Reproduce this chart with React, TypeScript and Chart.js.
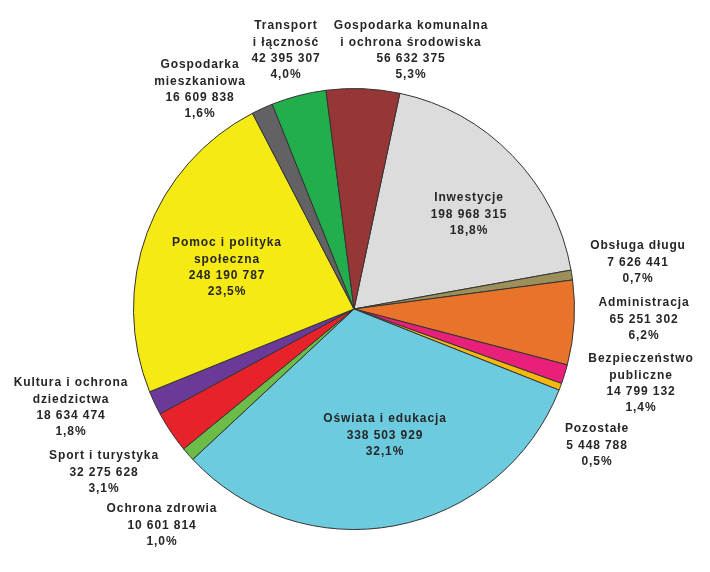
import React, { useEffect, useRef } from "react";
import { Chart, registerables } from "chart.js";

Chart.register(...registerables);

const categories = [
  "Inwestycje",
  "Obsługa długu",
  "Administracja",
  "Bezpieczeństwo publiczne",
  "Pozostałe",
  "Oświata i edukacja",
  "Ochrona zdrowia",
  "Sport i turystyka",
  "Kultura i ochrona dziedzictwa",
  "Pomoc i polityka społeczna",
  "Gospodarka mieszkaniowa",
  "Transport i łączność",
  "Gospodarka komunalna i ochrona środowiska",
];

const values = [
  198968315, 7626441, 65251302, 14799132, 5448788, 338503929, 10601814,
  32275628, 18634474, 248190787, 16609838, 42395307, 56632375,
];

const valueLabels = [
  "198 968 315", "7 626 441", "65 251 302", "14 799 132", "5 448 788",
  "338 503 929", "10 601 814", "32 275 628", "18 634 474", "248 190 787",
  "16 609 838", "42 395 307", "56 632 375",
];

const percentLabels = [
  "18,8%", "0,7%", "6,2%", "1,4%", "0,5%", "32,1%", "1,0%", "3,1%", "1,8%",
  "23,5%", "1,6%", "4,0%", "5,3%",
];

const nameLines = [
  ["Inwestycje"],
  ["Obsługa długu"],
  ["Administracja"],
  ["Bezpieczeństwo", "publiczne"],
  ["Pozostałe"],
  ["Oświata i edukacja"],
  ["Ochrona zdrowia"],
  ["Sport i turystyka"],
  ["Kultura i ochrona", "dziedzictwa"],
  ["Pomoc i polityka", "społeczna"],
  ["Gospodarka", "mieszkaniowa"],
  ["Transport", "i łączność"],
  ["Gospodarka komunalna", "i ochrona środowiska"],
];

const colors = [
  "#dcdcdc", "#9c8f5c", "#e8732a", "#e8207a", "#f6b80c", "#6ccbdf",
  "#6cbd48", "#e8222a", "#6b3a98", "#f6ea14", "#626264", "#22ae4c",
  "#963636",
];

// label anchor (center x, first line y)
const labelPos: [number, number][] = [
  [469, 198],
  [638, 246],
  [644, 303],
  [641, 359],
  [597, 429],
  [385, 419],
  [162, 509],
  [104, 456],
  [71, 383],
  [227, 243],
  [200, 65],
  [286, 26],
  [411, 26],
];

const labelsPlugin = {
  id: "sliceLabels",
  afterDraw(chart: any) {
    const ctx = chart.ctx;
    ctx.save();
    ctx.font = "bold 12px 'Liberation Sans', Arial, sans-serif";
    (ctx as any).letterSpacing = "0.9px";
    ctx.fillStyle = "#262626";
    ctx.textAlign = "center";
    ctx.textBaseline = "middle";
    const lh = 16.2;
    labelPos.forEach((p, i) => {
      const lines = [...nameLines[i], valueLabels[i], percentLabels[i]];
      lines.forEach((t, j) => {
        ctx.fillText(t, p[0], p[1] + j * lh);
      });
    });
    ctx.restore();
  },
};

export default function App() {
  const ref = useRef<HTMLCanvasElement>(null);
  useEffect(() => {
    if (!ref.current) return;
    const chart = new Chart(ref.current, {
      type: "pie",
      data: {
        labels: categories,
        datasets: [
          {
            data: values,
            backgroundColor: colors,
            borderColor: "#333333",
            borderWidth: 1,
            hoverOffset: 0,
          },
        ],
      },
      options: {
        responsive: false,
        animation: false,
        rotation: 12,
        layout: { padding: { left: 133, right: 135, top: 88, bottom: 42 } },
        plugins: {
          legend: { display: false },
          tooltip: { enabled: false },
        },
      },
      plugins: [labelsPlugin],
    });
    return () => chart.destroy();
  }, []);
  return (
    <div style={{ position: "absolute", left: 0, top: 0, width: 710, height: 572, background: "#fff" }}>
      <canvas ref={ref} width={710} height={572} style={{ width: 710, height: 572 }} />
    </div>
  );
}
